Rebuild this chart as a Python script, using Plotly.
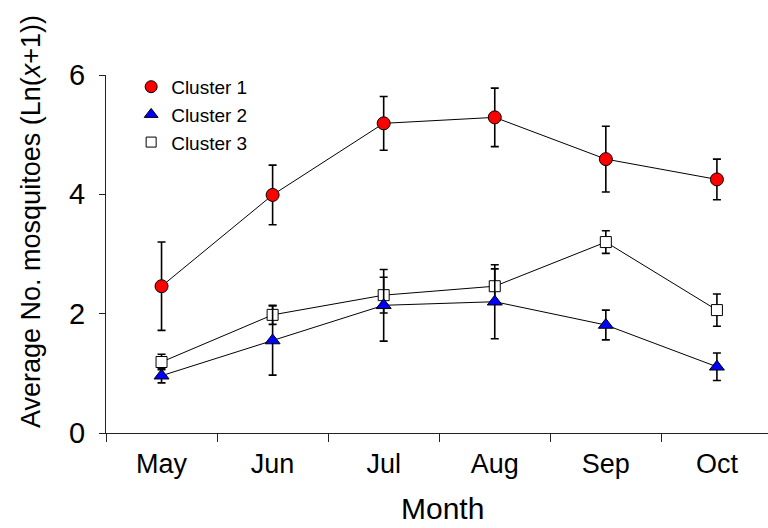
import plotly.graph_objects as go

months = ["May", "Jun", "Jul", "Aug", "Sep", "Oct"]
cluster1 = [2.46, 3.99, 5.19, 5.29, 4.59, 4.25]
cluster1_err = [0.74, 0.50, 0.45, 0.49, 0.55, 0.34]
cluster2 = [0.96, 1.55, 2.14, 2.20, 1.81, 1.11]
cluster2_err = [0.12, 0.58, 0.60, 0.62, 0.25, 0.23]
cluster3 = [1.19, 1.98, 2.31, 2.46, 3.20, 2.06]
cluster3_err = [0.13, 0.16, 0.30, 0.29, 0.19, 0.27]

FONT = "Liberation Sans, Arial, sans-serif"

series = [
    ("Cluster 1", cluster1, cluster1_err, "circle", "#FF0000", 13),
    ("Cluster 3", cluster3, cluster3_err, "square", "#FFFFFF", 11),
    ("Cluster 2", cluster2, cluster2_err, "triangle-up", "#0000FF", 13),
]

fig = go.Figure()
for name, vals, errs, sym, col, sz in series:
    fig.add_trace(go.Scatter(
        x=months, y=vals, mode="lines+markers", name=name, showlegend=False,
        line=dict(color="black", width=1),
        marker=dict(symbol=sym, color=col, size=sz, line=dict(color="black", width=1)),
        error_y=dict(type="data", array=errs, visible=True, color="black",
                     thickness=1.6, width=4),
        cliponaxis=False,
    ))

# legend-only entries (markers only)
for name, vals, errs, sym, col, sz in [series[0], series[2], series[1]]:
    fig.add_trace(go.Scatter(
        x=[None], y=[None], mode="markers", name=name,
        marker=dict(symbol=sym, color=col, size=sz - 1, line=dict(color="black", width=1)),
    ))

fig.update_layout(
    width=768, height=528,
    margin=dict(l=106, r=0, t=75, b=95),
    paper_bgcolor="white", plot_bgcolor="white",
    font=dict(family=FONT, color="black"),
    legend=dict(x=0.038, y=1.02, xanchor="left", yanchor="top",
                font=dict(size=19, family=FONT), bgcolor="rgba(0,0,0,0)",
                tracegroupgap=0, itemwidth=30),
    xaxis=dict(
        type="category", range=[-0.5, 5.46], showline=True, linecolor="#222222",
        linewidth=1, ticks="outside", tickson="boundaries", ticklen=8,
        tickcolor="#222222", showgrid=False, zeroline=False,
        tickfont=dict(size=27, family=FONT), ticklabelstandoff=7,
    ),
    yaxis=dict(
        range=[0, 6], dtick=2, showline=True, linecolor="#222222", linewidth=1,
        ticks="outside", ticklen=6, tickcolor="#222222", showgrid=False,
        zeroline=False, tickfont=dict(size=29, family=FONT), ticklabelstandoff=8,
    ),
    annotations=[
        dict(text="Average No. mosquitoes (Ln(<i>x</i>+1))", textangle=-90,
             xref="paper", yref="paper", x=(31 - 106) / 662, y=(433 - 222) / 358,
             xanchor="center", yanchor="middle", showarrow=False,
             font=dict(size=27, family=FONT)),
        dict(text="Month", xref="paper", yref="paper", x=(442 - 106) / 662,
             y=(433 - 508) / 358, xanchor="center", yanchor="middle",
             showarrow=False, font=dict(size=30, family=FONT)),
    ],
)

fig.write_html("out.html", config={"displayModeBar": False},
               post_script="document.body.style.margin='0';document.body.style.padding='0';")
